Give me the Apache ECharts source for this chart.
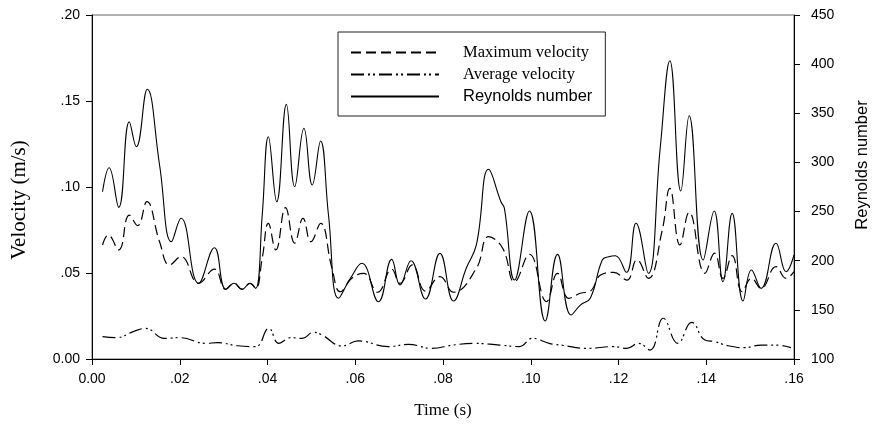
<!DOCTYPE html>
<html>
<head>
<meta charset="utf-8">
<script src="https://cdn.jsdelivr.net/npm/echarts@6/dist/echarts.min.js"></script>
<style>
  html, body { margin: 0; padding: 0; background: #fff; }
  #chart { width: 879px; height: 425px; }
</style>
</head>
<body>
<div id="chart"></div>
<script>
// Time (s) paired with each series value
const maxVelocity = [
  [0.0024, 0.0663], [0.0037, 0.0721], [0.0061, 0.0634], [0.0085, 0.0837], [0.0104, 0.0775],
  [0.0125, 0.0915], [0.0154, 0.0682], [0.0177, 0.0547], [0.0203, 0.0595], [0.0243, 0.0440],
  [0.0279, 0.0523], [0.0305, 0.0405], [0.0324, 0.0440], [0.0342, 0.0405], [0.0360, 0.0440],
  [0.0373, 0.0411], [0.0388, 0.0587], [0.0402, 0.0789], [0.0419, 0.0634], [0.0441, 0.0880],
  [0.0462, 0.0673], [0.0481, 0.0818], [0.0499, 0.0682], [0.0521, 0.0789], [0.0547, 0.0527],
  [0.0566, 0.0391], [0.0592, 0.0469], [0.0619, 0.0498], [0.0651, 0.0388], [0.0683, 0.0522],
  [0.0702, 0.0440], [0.0730, 0.0547], [0.0760, 0.0395], [0.0793, 0.0479], [0.0824, 0.0388],
  [0.0876, 0.0527], [0.0904, 0.0711], [0.0936, 0.0644], [0.0963, 0.0449], [0.0997, 0.0609],
  [0.1036, 0.0334], [0.1061, 0.0498], [0.1087, 0.0353], [0.1113, 0.0382], [0.1136, 0.0395],
  [0.1159, 0.0488], [0.1189, 0.0504], [0.1219, 0.0459], [0.1242, 0.0576], [0.1268, 0.0469],
  [0.1299, 0.0740], [0.1317, 0.0992], [0.1340, 0.0663], [0.1361, 0.0853], [0.1397, 0.0498],
  [0.1419, 0.0615], [0.1438, 0.0469], [0.1459, 0.0601], [0.1482, 0.0391], [0.1503, 0.0469],
  [0.1525, 0.0411], [0.1559, 0.0537], [0.1582, 0.0469], [0.1600, 0.0508]
];

const avgVelocity = [
  [0.0024, 0.0130], [0.0056, 0.0124], [0.0094, 0.0159], [0.0122, 0.0178], [0.0165, 0.0120],
  [0.0199, 0.0124], [0.0260, 0.0091], [0.0286, 0.0095], [0.0332, 0.0077], [0.0373, 0.0072],
  [0.0403, 0.0178], [0.0426, 0.0091], [0.0453, 0.0124], [0.0479, 0.0120], [0.0505, 0.0155],
  [0.0524, 0.0140], [0.0570, 0.0076], [0.0607, 0.0105], [0.0675, 0.0072], [0.0721, 0.0085],
  [0.0774, 0.0062], [0.0823, 0.0081], [0.0868, 0.0091], [0.0929, 0.0081], [0.0974, 0.0072],
  [0.1004, 0.0120], [0.1042, 0.0091], [0.1068, 0.0081], [0.1129, 0.0062], [0.1189, 0.0072],
  [0.1219, 0.0062], [0.1246, 0.0091], [0.1272, 0.0052], [0.1302, 0.0237], [0.1335, 0.0091],
  [0.1367, 0.0213], [0.1397, 0.0110], [0.1419, 0.0101], [0.1450, 0.0077], [0.1487, 0.0066],
  [0.1525, 0.0081], [0.1559, 0.0081], [0.1593, 0.0066]
];

const reynolds = [
  [0.0024, 270.2], [0.0039, 294.6], [0.0061, 254.3], [0.0085, 341.4], [0.0101, 316.0],
  [0.0126, 374.4], [0.0154, 297.4], [0.0181, 219.3], [0.0203, 243.2], [0.0243, 177.0],
  [0.0279, 213.2], [0.0305, 170.9], [0.0324, 177.0], [0.0342, 170.9], [0.0360, 177.0],
  [0.0373, 171.9], [0.0388, 246.5], [0.0402, 326.2], [0.0421, 260.0], [0.0443, 359.1],
  [0.0462, 275.3], [0.0483, 334.7], [0.0502, 277.0], [0.0521, 321.8], [0.0539, 246.5],
  [0.0562, 161.8], [0.0589, 182.1], [0.0615, 197.4], [0.0653, 158.3], [0.0683, 201.4],
  [0.0702, 175.3], [0.0727, 200.0], [0.0760, 161.0], [0.0793, 207.5], [0.0824, 159.0],
  [0.0853, 192.3], [0.0876, 216.0], [0.0904, 293.0], [0.0932, 260.0], [0.0940, 253.3],
  [0.0963, 180.4], [0.0997, 250.6], [0.1033, 138.7], [0.1061, 206.5], [0.1092, 144.8],
  [0.1113, 154.9], [0.1136, 162.1], [0.1163, 200.7], [0.1178, 204.1], [0.1193, 205.1],
  [0.1218, 188.2], [0.1240, 238.1], [0.1268, 187.2], [0.1295, 314.4], [0.1317, 403.5],
  [0.1342, 270.9], [0.1361, 347.5], [0.1393, 200.7], [0.1418, 250.6], [0.1438, 178.6],
  [0.1459, 248.2], [0.1484, 159.0], [0.1503, 190.6], [0.1525, 171.9], [0.1559, 217.7],
  [0.1582, 188.8], [0.1600, 205.8]
];

const seriesNames = ['Maximum velocity', 'Average velocity', 'Reynolds number'];
const timeTicks = { min: 0, max: 0.16, interval: 0.02 };
const velocityTicks = { min: 0, max: 0.2, interval: 0.05 };
const reynoldsTicks = { min: 100, max: 450, interval: 50 };

const SANS = 'Liberation Sans, Arial, sans-serif';
const SERIF = 'Liberation Serif, Times New Roman, serif';
const INK = '#000';

// ".05" style labels, with "0.00" at the origin
function fracLabel(v) {
  if (Math.abs(v) < 1e-9) return '0.00';
  return v.toFixed(2).replace(/^0/, '');
}

const axisLineStyle = { lineStyle: { color: INK, width: 1 } };
const tickStyle = { show: true, inside: false, length: 6, lineStyle: { color: INK, width: 1 } };

const chart = echarts.init(document.getElementById('chart'), null, { renderer: 'canvas' });

chart.setOption({
  backgroundColor: '#fff',
  animation: false,
  grid: {
    left: 92, right: 81, top: 15, bottom: 66,
    show: true, borderColor: '#666', borderWidth: 1, backgroundColor: 'transparent'
  },
  legend: {
    orient: 'vertical',
    left: 338, top: 32,
    padding: [12, 13, 11, 12],
    itemGap: 5,
    itemWidth: 88, itemHeight: 14,
    borderColor: '#222', borderWidth: 1,
    backgroundColor: '#fff',
    itemStyle: { opacity: 0 },
    data: seriesNames,
    formatter: function (name) {
      return name === 'Reynolds number' ? '{sans|' + name + '}' : '{serif|' + name + '}';
    },
    textStyle: {
      color: INK,
      rich: {
        serif: { fontFamily: SERIF, fontSize: 16.5, lineHeight: 16, color: INK, padding: [0, 0, 0, 19] },
        sans: { fontFamily: SANS, fontSize: 16.5, lineHeight: 16, color: INK, padding: [0, 0, 0, 19] }
      }
    }
  },
  xAxis: {
    type: 'value',
    min: timeTicks.min, max: timeTicks.max, interval: timeTicks.interval,
    name: 'Time (s)', nameLocation: 'middle', nameGap: 43,
    nameTextStyle: { fontFamily: SERIF, fontSize: 17, color: INK },
    axisLine: axisLineStyle,
    axisTick: tickStyle,
    axisLabel: { formatter: fracLabel, fontFamily: SANS, fontSize: 14, color: INK, margin: 13 },
    splitLine: { show: false }
  },
  yAxis: [
    {
      type: 'value', position: 'left',
      min: velocityTicks.min, max: velocityTicks.max, interval: velocityTicks.interval,
      name: 'Velocity (m/s)', nameLocation: 'middle', nameGap: 62, nameRotate: 90,
      nameTextStyle: { fontFamily: SERIF, fontSize: 21, color: INK, padding: [0, 26, 0, 0] },
      axisLine: { show: true, lineStyle: { color: INK, width: 1 } },
      axisTick: tickStyle,
      axisLabel: { formatter: fracLabel, fontFamily: SANS, fontSize: 14, color: INK, margin: 12 },
      splitLine: { show: false }
    },
    {
      type: 'value', position: 'right',
      min: reynoldsTicks.min, max: reynoldsTicks.max, interval: reynoldsTicks.interval,
      name: 'Reynolds number', nameLocation: 'middle', nameGap: 60, nameRotate: 90,
      nameTextStyle: { fontFamily: SANS, fontSize: 16.5, color: INK, padding: [0, 0, 0, 44] },
      axisLine: { show: true, lineStyle: { color: INK, width: 1 } },
      axisTick: tickStyle,
      axisLabel: { fontFamily: SANS, fontSize: 14, color: INK, margin: 17 },
      splitLine: { show: false }
    }
  ],
  series: [
    {
      name: seriesNames[0], type: 'line', yAxisIndex: 0,
      data: maxVelocity, smooth: 0.45, symbol: 'none',
      lineStyle: { color: INK, width: 1.2, type: [10, 5] },
      itemStyle: { color: INK }
    },
    {
      name: seriesNames[1], type: 'line', yAxisIndex: 0,
      data: avgVelocity, smooth: 0.45, symbol: 'none',
      lineStyle: { color: INK, width: 1.2, type: [13, 4, 2, 3, 2, 4] },
      itemStyle: { color: INK }
    },
    {
      name: seriesNames[2], type: 'line', yAxisIndex: 1,
      data: reynolds, smooth: 0.45, symbol: 'none',
      lineStyle: { color: INK, width: 1.1, type: 'solid' },
      itemStyle: { color: INK }
    }
  ]
});
</script>
</body>
</html>
